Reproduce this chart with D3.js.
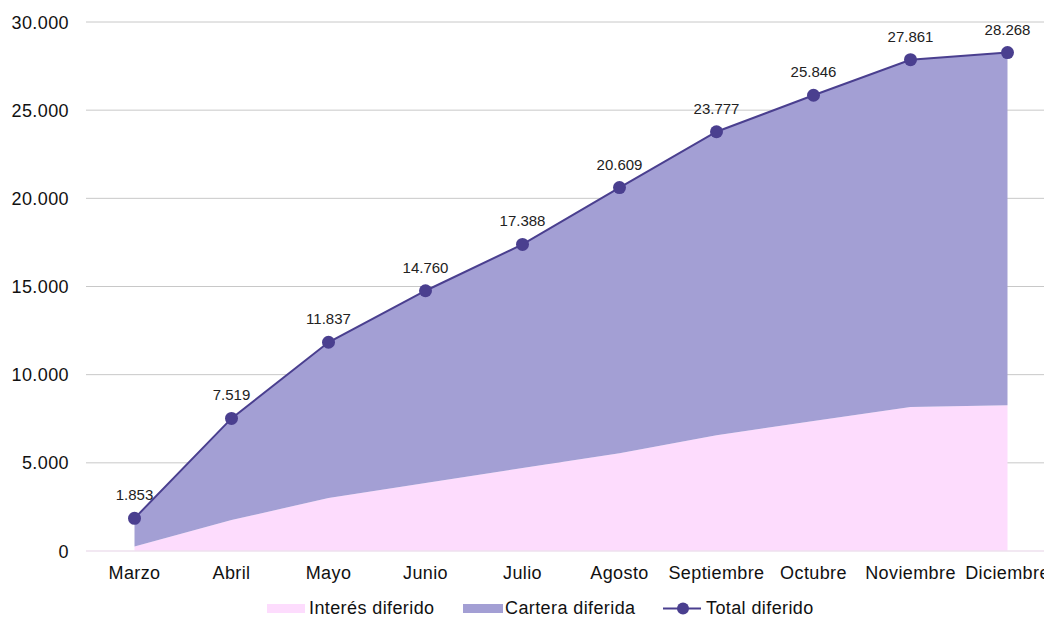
<!DOCTYPE html>
<html>
<head>
<meta charset="utf-8">
<script src="https://cdn.jsdelivr.net/npm/d3@7"></script>
<style>
  body { margin: 0; background: #fff; }
  svg { font-family: "Liberation Sans", Arial, sans-serif; }
</style>
</head>
<body>
<svg id="chart"></svg>
<script>
const width = 1044;
const height = 619;

const months = ["Marzo", "Abril", "Mayo", "Junio", "Julio", "Agosto", "Septiembre", "Octubre", "Noviembre", "Diciembre"];
const interes = [260, 1760, 3000, 3850, 4700, 5550, 6570, 7370, 8160, 8270];
const total = [1853, 7519, 11837, 14760, 17388, 20609, 23777, 25846, 27861, 28268];
const cartera = total.map((t, i) => t - interes[i]);
const yTicks = [0, 5000, 10000, 15000, 20000, 25000, 30000];

const margin = { top: 22, left: 86, bottom: 68 };
const plotRight = 1056;

const svg = d3.select("#chart").attr("width", width).attr("height", height);

const x = d3.scaleBand().domain(months).range([margin.left, plotRight]);
const y = d3.scaleLinear().domain([0, 30000]).range([height - margin.bottom, margin.top]);
const cx = d => x(d) + x.bandwidth() / 2;

const fmt = v => d3.format(",")(v).replace(/,/g, ".");

// gridlines
svg.append("g")
  .selectAll("line")
  .data(yTicks.filter(t => t > 0))
  .enter().append("line")
  .attr("x1", margin.left).attr("x2", width)
  .attr("y1", d => y(d)).attr("y2", d => y(d))
  .attr("stroke", "#c8c8c8").attr("stroke-width", 1);

// y tick labels
svg.append("g")
  .selectAll("text")
  .data(yTicks)
  .enter().append("text")
  .attr("x", 69)
  .attr("y", d => y(d) + 6.5)
  .attr("text-anchor", "end")
  .attr("font-size", 18)
  .attr("letter-spacing", 0.4)
  .attr("fill", "#111")
  .text(d => fmt(d));

const rows = months.map((m, i) => ({ month: m, interes: interes[i], cartera: cartera[i] }));
const stack = d3.stack().keys(["interes", "cartera"]);
const layers = stack(rows);
const colors = { interes: "#fddcfd", cartera: "#a39fd4" };

const area = d3.area()
  .x(d => cx(d.data.month))
  .y0(d => y(d[0]))
  .y1(d => y(d[1]));

svg.append("g")
  .selectAll("path")
  .data(layers)
  .enter().append("path")
  .attr("d", area)
  .attr("fill", d => colors[d.key]);

// x axis line
svg.append("line")
  .attr("x1", margin.left).attr("x2", width)
  .attr("y1", y(0)).attr("y2", y(0))
  .attr("stroke", "#eee0ee").attr("stroke-width", 1.5);

// x labels
svg.append("g")
  .selectAll("text")
  .data(months)
  .enter().append("text")
  .attr("x", d => cx(d))
  .attr("y", 579)
  .attr("text-anchor", "middle")
  .attr("font-size", 18)
  .attr("letter-spacing", 0.4)
  .attr("fill", "#111")
  .text(d => d);

// total line
const line = d3.line().x((d, i) => cx(months[i])).y(d => y(d));
svg.append("path")
  .attr("d", line(total))
  .attr("fill", "none")
  .attr("stroke", "#4a3f8f")
  .attr("stroke-width", 2);

svg.append("g")
  .selectAll("circle")
  .data(total)
  .enter().append("circle")
  .attr("cx", (d, i) => cx(months[i]))
  .attr("cy", d => y(d))
  .attr("r", 6.5)
  .attr("fill", "#4a3f8f");

svg.append("g")
  .selectAll("text")
  .data(total)
  .enter().append("text")
  .attr("x", (d, i) => cx(months[i]))
  .attr("y", d => y(d) - 18)
  .attr("text-anchor", "middle")
  .attr("font-size", 15)
  .attr("fill", "#222")
  .text(d => fmt(d));

// legend
const lg = svg.append("g").attr("font-size", 18).attr("letter-spacing", 0.4).attr("fill", "#111");
lg.append("rect").attr("x", 267).attr("y", 604).attr("width", 38).attr("height", 9).attr("fill", colors.interes);
lg.append("text").attr("x", 309).attr("y", 614).text("Interés diferido");
lg.append("rect").attr("x", 463).attr("y", 604).attr("width", 40).attr("height", 9).attr("fill", colors.cartera);
lg.append("text").attr("x", 505).attr("y", 614).text("Cartera diferida");
lg.append("line").attr("x1", 663).attr("x2", 701).attr("y1", 608.5).attr("y2", 608.5).attr("stroke", "#4a3f8f").attr("stroke-width", 2);
lg.append("circle").attr("cx", 683).attr("cy", 608.5).attr("r", 6).attr("fill", "#4a3f8f");
lg.append("text").attr("x", 706).attr("y", 614).text("Total diferido");
</script>
</body>
</html>
